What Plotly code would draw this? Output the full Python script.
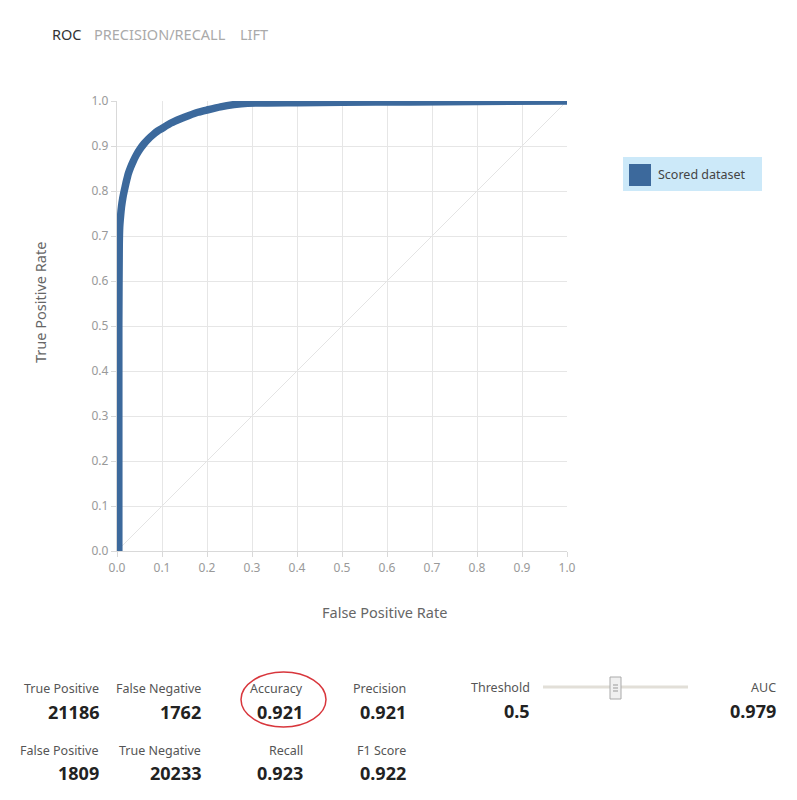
import plotly.graph_objects as go

# ROC curve values
fpr = [0.004, 0.004, 0.005, 0.006, 0.008, 0.010, 0.013, 0.016, 0.020, 0.025, 0.030, 0.036,
       0.043, 0.051, 0.060, 0.070, 0.080, 0.090, 0.100, 0.120, 0.140, 0.160, 0.180, 0.200,
       0.230, 0.260, 0.290, 0.400, 0.500, 0.650, 0.800, 1.000]
tpr = [0.000, 0.500, 0.680, 0.720, 0.745, 0.765, 0.785, 0.800, 0.818, 0.838, 0.852, 0.866,
       0.880, 0.893, 0.905, 0.916, 0.925, 0.933, 0.939, 0.951, 0.960, 0.968, 0.975, 0.980,
       0.987, 0.992, 0.995, 0.996, 0.997, 0.998, 0.999, 1.000]
diag_x = [0.0, 1.0]
diag_y = [0.0, 1.0]
tick_vals = [0.0, 0.1, 0.2, 0.3, 0.4, 0.5, 0.6, 0.7, 0.8, 0.9, 1.0]
tick_text = ["0.0", "0.1", "0.2", "0.3", "0.4", "0.5", "0.6", "0.7", "0.8", "0.9", "1.0"]

tabs = ["ROC", "PRECISION/RECALL", "LIFT"]
series_name = "Scored dataset"

stat_labels_row1 = ["True Positive", "False Negative", "Accuracy", "Precision"]
stat_values_row1 = ["21186", "1762", "0.921", "0.921"]
stat_labels_row2 = ["False Positive", "True Negative", "Recall", "F1 Score"]
stat_values_row2 = ["1809", "20233", "0.923", "0.922"]
threshold_label, threshold_value = "Threshold", "0.5"
auc_label, auc_value = "AUC", "0.979"

# page geometry (the page body has an 8px margin)
OFF = 8
W, H = 797, 800
L, R, T, B = 117, 567, 101, 551
PW, PH = R - L, B - T
FW, FH = W - 2 * OFF, H - 2 * OFF

def px(x):
    return (x - L) / PW

def py(y):
    return (B - y) / PH

FONT = "Noto Sans"
BLUE = "#3c699c"

fig = go.Figure()
fig.add_trace(go.Scatter(x=diag_x, y=diag_y, mode="lines",
                         line=dict(color="#e4e4e4", width=1), showlegend=False, hoverinfo="skip"))
fig.add_trace(go.Scatter(x=fpr, y=tpr, mode="lines", name=series_name,
                         line=dict(color=BLUE, width=7.5, shape="spline", smoothing=0.4),
                         cliponaxis=False, showlegend=False))

ann = []
# tabs
tab_x = [50, 92, 238]
tab_col = ["#333333", "#aaaaaa", "#aaaaaa"]
for t, x0, c in zip(tabs, tab_x, tab_col):
    ann.append(dict(text=t, x=px(x0), y=py(34), xref="paper", yref="paper",
                    xanchor="left", yanchor="middle", showarrow=False,
                    font=dict(family=FONT, size=14.5, color=c)))
# axis titles
ann.append(dict(text="True Positive Rate", x=px(40), y=py(303), xref="paper", yref="paper",
                textangle=-90, showarrow=False, xanchor="center", yanchor="middle",
                font=dict(family=FONT, size=14.5, color="#666666")))
ann.append(dict(text="False Positive Rate", x=px(384), y=py(612), xref="paper", yref="paper",
                showarrow=False, xanchor="center", yanchor="middle",
                font=dict(family=FONT, size=14.5, color="#666666")))
# legend text
ann.append(dict(text=series_name, x=px(656), y=py(175), xref="paper", yref="paper",
                showarrow=False, xanchor="left", yanchor="middle",
                font=dict(family=FONT, size=12.5, color="#444444")))

# stats
row1_right = [101, 203, 305, 408]
row2_right = [101, 203, 305, 408]
LBL = dict(family=FONT, size=12.5, color="#555555")
VAL = dict(family=FONT, size=18, color="#222222")
for lab, val, xr in zip(stat_labels_row1, stat_values_row1, row1_right):
    ann.append(dict(text=lab, x=px(xr), y=py(688), xref="paper", yref="paper", showarrow=False,
                    xanchor="right", yanchor="middle", font=LBL))
    ann.append(dict(text="<b>%s</b>" % val, x=px(xr), y=py(712), xref="paper", yref="paper",
                    showarrow=False, xanchor="right", yanchor="middle", font=VAL))
for lab, val, xr in zip(stat_labels_row2, stat_values_row2, row2_right):
    ann.append(dict(text=lab, x=px(xr), y=py(750), xref="paper", yref="paper", showarrow=False,
                    xanchor="right", yanchor="middle", font=LBL))
    ann.append(dict(text="<b>%s</b>" % val, x=px(xr), y=py(773), xref="paper", yref="paper",
                    showarrow=False, xanchor="right", yanchor="middle", font=VAL))
ann.append(dict(text=threshold_label, x=px(532), y=py(687), xref="paper", yref="paper", showarrow=False,
                xanchor="right", yanchor="middle", font=LBL))
ann.append(dict(text="<b>%s</b>" % threshold_value, x=px(532), y=py(711), xref="paper", yref="paper",
                showarrow=False, xanchor="right", yanchor="middle", font=VAL))
ann.append(dict(text=auc_label, x=px(778), y=py(687), xref="paper", yref="paper", showarrow=False,
                xanchor="right", yanchor="middle", font=LBL))
ann.append(dict(text="<b>%s</b>" % auc_value, x=px(778), y=py(711), xref="paper", yref="paper",
                showarrow=False, xanchor="right", yanchor="middle", font=VAL))

shapes = [
    # legend box
    dict(type="rect", xref="paper", yref="paper", x0=px(623), x1=px(762), y0=py(191), y1=py(157),
         fillcolor="#cce9f9", line=dict(width=0), layer="below"),
    dict(type="rect", xref="paper", yref="paper", x0=px(629), x1=px(651), y0=py(186), y1=py(164),
         fillcolor=BLUE, line=dict(width=0)),
    # slider track
    dict(type="line", xref="paper", yref="paper", x0=px(543), x1=px(688), y0=py(687), y1=py(687),
         line=dict(color="#e2dfd8", width=3)),
    # slider handle
    dict(type="rect", xref="paper", yref="paper", x0=px(610), x1=px(621), y0=py(699), y1=py(677),
         fillcolor="#f0f0f0", line=dict(color="#aaaaaa", width=1)),
    dict(type="line", xref="paper", yref="paper", x0=px(613), x1=px(618), y0=py(685), y1=py(685),
         line=dict(color="#999999", width=1)),
    dict(type="line", xref="paper", yref="paper", x0=px(613), x1=px(618), y0=py(688), y1=py(688),
         line=dict(color="#999999", width=1)),
    dict(type="line", xref="paper", yref="paper", x0=px(613), x1=px(618), y0=py(691), y1=py(691),
         line=dict(color="#999999", width=1)),
    # red ellipse
    dict(type="circle", xref="paper", yref="paper", x0=px(241), x1=px(326), y0=py(727), y1=py(672),
         line=dict(color="#d8363c", width=1.5)),
]

axis_common = dict(range=[0, 1], tickvals=tick_vals, ticktext=tick_text, showgrid=True,
                   gridcolor="#e6e6e6", gridwidth=1.3, zeroline=False, showline=True,
                   linecolor="#d9d9d9", linewidth=1.3, ticks="outside", ticklen=5,
                   tickcolor="#d9d9d9", tickfont=dict(family=FONT, size=12, color="#999999"),
                   fixedrange=True)
fig.update_layout(
    width=FW, height=FH,
    margin=dict(l=L - OFF, r=FW - (R - OFF), t=T - OFF, b=FH - (B - OFF), pad=0),
    paper_bgcolor="white", plot_bgcolor="white",
    xaxis=dict(**axis_common),
    yaxis=dict(**axis_common),
    annotations=ann, shapes=shapes, showlegend=False,
)
fig.write_html("out.html")
